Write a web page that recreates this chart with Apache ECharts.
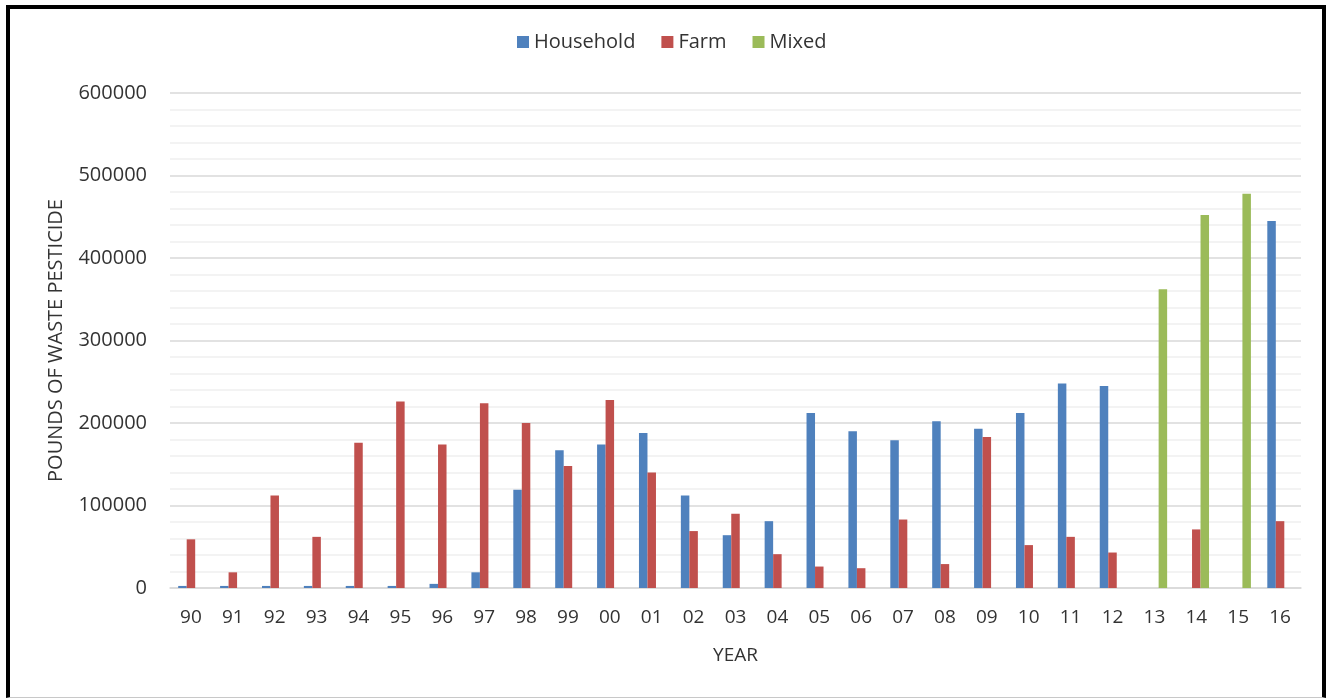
<!DOCTYPE html>
<html>
<head>
<meta charset="utf-8">
<script src="https://cdn.jsdelivr.net/npm/echarts@6/dist/echarts.min.js"></script>
<style>
html,body{margin:0;padding:0;background:#fff;}
#frame{position:absolute;left:6px;top:5px;width:1320px;height:693px;border-top:4px solid #000;border-left:4px solid #000;border-right:4px solid #000;border-bottom:1px solid #c8c8c8;box-sizing:border-box;}
#chart{position:absolute;left:0;top:0;width:1331px;height:700px;}
</style>
</head>
<body>
<div id="frame"></div>
<div id="chart"></div>
<script>
const years = ['90','91','92','93','94','95','96','97','98','99','00','01','02','03','04','05','06','07','08','09','10','11','12','13','14','15','16'];
const household = [2500,2500,2500,2500,2500,2500,5000,19000,119000,167000,174000,188000,112000,64000,81000,212000,190000,179000,202000,193000,212000,248000,245000,null,null,null,445000];
const farm = [59000,19000,112000,62000,176000,226000,174000,224000,200000,148000,228000,140000,69000,90000,41000,26000,24000,83000,29000,183000,52000,62000,43000,null,71000,null,81000];
const mixed = [null,null,null,null,null,null,null,null,null,null,null,null,null,null,null,null,null,null,null,null,null,null,null,362000,452000,478000,null];
const yTicks = {min:0, max:600000, interval:100000};

const font = '"Open Sans", "Liberation Sans", sans-serif';
const txt = '#333333';
const chart = echarts.init(document.getElementById('chart'));
const bar = (name, data, color) => ({
  name, type:'bar', data, barWidth:8.5, barGap:'0%',
  itemStyle:{color}, emphasis:{disabled:true}
});
chart.setOption({
  animation:false,
  textStyle:{fontFamily:font},
  legend:{
    top:32, left:517, padding:0, itemWidth:12, itemHeight:12, itemGap:26,
    icon:'rect',
    textStyle:{fontFamily:font, fontSize:20, color:txt},
    data:['Household','Farm','Mixed']
  },
  grid:{left:170, right:30, top:93, bottom:112},
  xAxis:{
    type:'category', data:years,
    name:'YEAR', nameLocation:'middle', nameGap:58,
    nameTextStyle:{fontFamily:font, fontSize:19, color:txt},
    axisLine:{lineStyle:{color:'#d9d9d9', width:1.5}},
    axisTick:{show:false},
    axisLabel:{fontFamily:font, fontSize:19, color:txt, margin:20}
  },
  yAxis:{
    type:'value', min:yTicks.min, max:yTicks.max, interval:yTicks.interval,
    name:'POUNDS OF WASTE PESTICIDE', nameLocation:'middle', nameGap:104, nameRotate:90,
    nameTextStyle:{fontFamily:font, fontSize:20, color:txt},
    axisLine:{show:false}, axisTick:{show:false},
    axisLabel:{fontFamily:font, fontSize:20, color:txt, margin:23, formatter:v => String(v)},
    splitLine:{lineStyle:{color:'#d9d9d9', width:1.5}},
    minorTick:{show:false, splitNumber:5},
    minorSplitLine:{show:true, lineStyle:{color:'#f0f0f0', width:1.5}}
  },
  series:[
    bar('Household', household, '#4f81bd'),
    bar('Farm', farm, '#c0504d'),
    bar('Mixed', mixed, '#9bbb59')
  ]
});
</script>
</body>
</html>
